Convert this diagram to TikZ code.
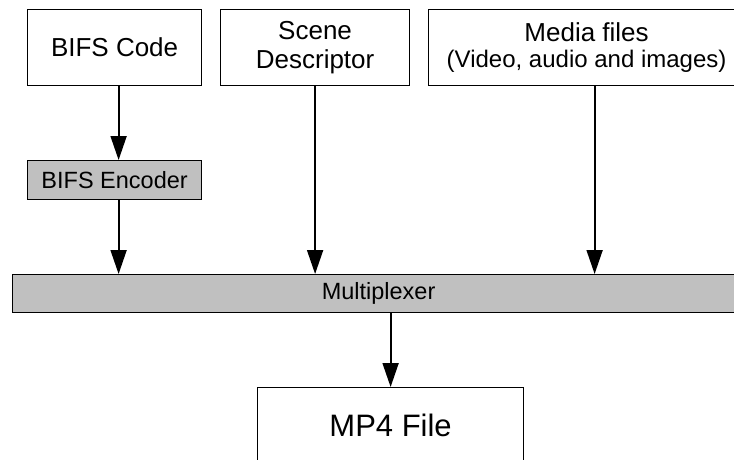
\documentclass[tikz,border=0pt]{standalone}
\usepackage{fontspec}
\setmainfont{Liberation Sans}
\usetikzlibrary{arrows.meta,calc}
\definecolor{boxgray}{HTML}{C0C0C0}
\begin{document}
\begin{tikzpicture}[x=1pt,y=-1pt,
  box/.style={draw=black,line width=1.2pt,inner sep=0pt,align=center,anchor=north west},
  shaded/.style={box,fill=boxgray},
  flow/.style={line width=1.8pt,-{Triangle[length=24pt,width=16pt]}}]
\useasboundingbox (0,0) rectangle (734,459);
\begin{scope}
\clip (0,0) rectangle (734,459);
% source boxes
\node[box,minimum width=174pt,minimum height=76pt,font=\fontsize{26}{29}\selectfont]
  (bifs) at (27,9) {BIFS Code};
\node[box,minimum width=189pt,minimum height=76pt,font=\fontsize{26}{29}\selectfont]
  (scene) at (220,9) {Scene\\Descriptor};
\node[box,minimum width=316pt,minimum height=76pt,font=\fontsize{24}{26}\selectfont]
  (media) at (428,9) {{\fontsize{26}{26}\selectfont Media files}\\(Video, audio and images)};
% processing stages
\node[shaded,minimum width=174pt,minimum height=39pt,font=\fontsize{23.5}{26}\selectfont]
  (enc) at (27,160) {BIFS Encoder};
\node[shaded,minimum width=732pt,minimum height=38pt,font=\fontsize{23.5}{26}\selectfont]
  (mux) at (12,274) {Multiplexer};
% output
\node[box,minimum width=266pt,minimum height=75pt,font=\fontsize{31}{34}\selectfont]
  (mp4) at (257,387) {MP4 File};
% connectors
\draw[flow] ([xshift=4pt]bifs.south) -- ([xshift=4pt]enc.north);
\draw[flow] ([xshift=4pt]enc.south) -- ([xshift=4pt]enc.south |- mux.north);
\draw[flow] (scene.south) -- (scene.south |- mux.north);
\draw[flow] ([xshift=8pt]media.south) -- ([xshift=8pt]media.south |- mux.north);
\draw[flow] ([xshift=12pt]mux.south) -- ([xshift=12pt]mux.south |- mp4.north);
\end{scope}
\end{tikzpicture}
\end{document}
